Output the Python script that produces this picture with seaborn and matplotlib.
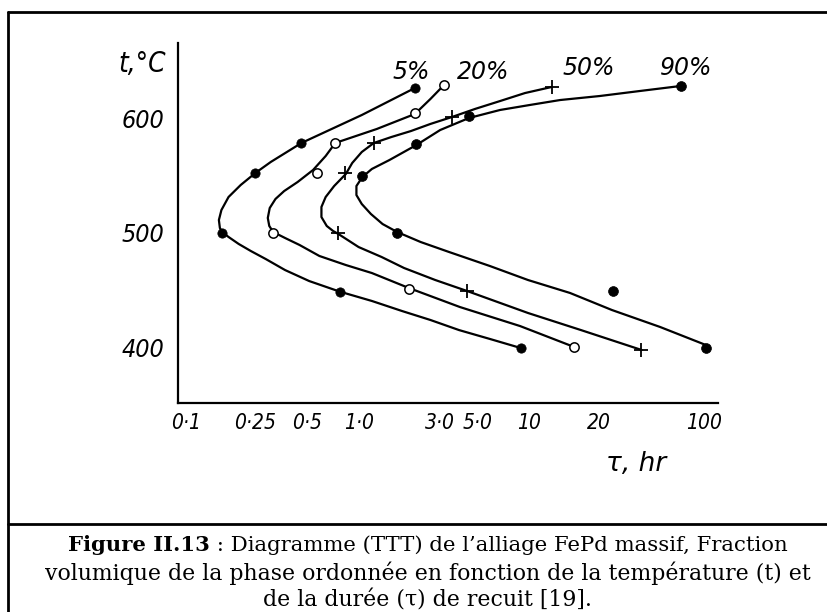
import numpy as np
import pandas as pd
import matplotlib
matplotlib.use("Agg")
import matplotlib.pyplot as plt
from matplotlib.lines import Line2D
from matplotlib.transforms import ScaledTranslation
import seaborn as sns

# ---------------- data ----------------
tau_ticks = [0.1, 0.25, 0.5, 1.0, 3.0, 5.0, 10, 20, 100]
tau_tick_labels = ["0·1", "0·25", "0·5", "1·0", "3·0", "5·0", "10", "20", "100"]
temp_ticks = [400, 500, 600]
series_labels = ["5%", "20%", "50%", "90%"]

# measured points (tau in hr, t in degC)
tau_5 = [1.94, 0.423, 0.2275, 0.1475, 0.707, 8.2]
t_5 = [626, 578, 552, 500, 448, 399]
tau_20 = [2.88, 1.94, 0.664, 0.52, 0.29, 1.79, 14.6]
t_20 = [629, 604, 578, 552, 500, 451, 400]
tau_50 = [11.7, 3.2, 1.11, 0.76, 0.69, 3.93, 34.4]
t_50 = [627, 601, 578, 552, 500, 449, 397]
tau_90 = [63, 4.03, 1.98, 0.945, 1.53, 22.1, 92.7]
t_90 = [628, 602, 577, 549, 500, 449, 399]

# traced curves (tau in hr, t in degC)
c5_tau = [1.94, 0.945, 0.423, 0.281, 0.229, 0.1884, 0.1603, 0.1458, 0.1410, 0.1429,
          0.1475, 0.1603, 0.1834, 0.2157, 0.263, 0.340, 0.469, 0.707, 1.083, 1.632,
          2.395, 3.525, 5.35, 8.22]
c5_t = [626.2, 602.6, 578.2, 561.6, 552.0, 541.5, 531.0, 519.6, 510.9, 503.9,
        500.4, 496.1, 490.0, 483.8, 476.8, 467.2, 457.6, 448.3, 440.2, 431.4,
        423.6, 414.8, 407.0, 398.9]
c20_tau = [2.88, 2.395, 1.94, 1.157, 0.664, 0.584, 0.4937, 0.4019, 0.3358, 0.2992,
           0.2771, 0.2700, 0.2754, 0.2905, 0.340, 0.4124, 0.537, 0.764, 1.083, 1.79,
           3.57, 8.05, 14.6]
c20_t = [628.8, 616.6, 603.5, 590.4, 578.2, 566.8, 554.6, 544.1, 536.2, 529.3,
         521.4, 512.7, 505.7, 500.4, 495.2, 489.1, 479.5, 471.6, 464.6, 451.5,
         434.9, 418.3, 400.0]
c50_tau = [11.68, 8.61, 6.13, 4.37, 3.21, 2.395, 1.838, 1.411, 1.112, 0.945,
           0.832, 0.764, 0.654, 0.584, 0.552, 0.552, 0.5925, 0.645, 0.692, 0.906,
           1.236, 1.675, 2.559, 3.93, 8.97, 15.6, 34.5]
c50_t = [627.1, 621.8, 614.8, 607.9, 600.9, 594.8, 588.6, 583.4, 578.2, 570.3,
         560.7, 551.1, 540.6, 531.0, 522.3, 513.5, 505.7, 501.3, 498.7, 487.3,
         478.6, 469.0, 458.5, 448.9, 429.7, 414.8, 397.4]
c90_tau = [63.1, 33.7, 18.8, 12.7, 9.22, 6.13, 4.03, 2.734, 1.98, 1.374,
           1.083, 0.953, 0.880, 0.880, 0.945, 1.068, 1.252, 1.527, 2.098, 3.08,
           5.35, 8.97, 14.0, 21.9, 45.8, 92.6]
c90_t = [628.0, 623.6, 619.2, 615.7, 611.4, 607.0, 600.0, 589.5, 576.4, 563.3,
         555.5, 548.5, 540.6, 532.7, 524.9, 516.2, 507.4, 500.4, 491.7, 483.0,
         470.7, 458.5, 447.2, 432.3, 417.5, 401.7]

caption_bold = "Figure II.13"
caption_rest = " : Diagramme (TTT) de l\u2019alliage FePd massif, Fraction"
caption_2 = "volumique de la phase ordonnée en fonction de la température (t) et"
caption_3 = "de la durée (\u03c4) de recuit [19]."

# ---------------- layout ----------------
W, H = 828, 612
fig = plt.figure(figsize=(W / 100, H / 100), dpi=100)
sns.set_style("white")
plt.rcParams["font.family"] = ["DejaVu Sans"]

ax = fig.add_axes([178 / W, 1 - 403 / H, 540 / W, 360 / H])

# printed (distorted log) time axis: tick positions in px
tick_px = [193, 262, 314, 366, 447, 485, 536, 606, 711]
log_ext = np.concatenate([[-3.0], np.log10(tau_ticks), [4.0]])
px_ext = np.concatenate([[193 - 2 * 171], tick_px, [711 + 2 * 150]])


def fwd(x):
    x = np.asarray(x, dtype=float)
    return np.interp(np.log10(np.clip(x, 1e-9, None)), log_ext, px_ext)


def inv(p):
    p = np.asarray(p, dtype=float)
    return 10 ** np.interp(p, px_ext, log_ext)


ax.set_xscale("function", functions=(fwd, inv))

curves = [(c5_tau, c5_t), (c20_tau, c20_t), (c50_tau, c50_t), (c90_tau, c90_t)]
for ct, cT in curves:
    df = pd.DataFrame({"tau": ct, "t": cT})
    sns.lineplot(data=df, x="tau", y="t", sort=False, estimator=None,
                 color="black", lw=1.6, ax=ax, zorder=2)
for ln in ax.lines:
    ln.set_solid_joinstyle("round")

sns.scatterplot(x=tau_5, y=t_5, marker="o", color="black", s=45,
                edgecolor="black", linewidth=0.5, ax=ax, zorder=3)
sns.scatterplot(x=tau_20, y=t_20, marker="o", color="white", s=45,
                edgecolor="black", linewidth=1.1, ax=ax, zorder=3)
sns.scatterplot(x=tau_50, y=t_50, marker="+", color="black", s=100,
                linewidth=1.3, ax=ax, zorder=3)
sns.scatterplot(x=tau_90, y=t_90, marker="o", color="black", s=50,
                edgecolor="black", linewidth=0.5, ax=ax, zorder=3)

ax.set_xlim(0.0817, 111.3)
ax.set_ylim(351.1, 665.5)
ax.set_xlabel("")
ax.set_ylabel("")
ax.set_xticks(tau_ticks)
ax.set_xticklabels(tau_tick_labels)
ax.xaxis.set_minor_locator(matplotlib.ticker.NullLocator())
ax.set_yticks(temp_ticks)
ax.set_yticklabels([str(v) for v in temp_ticks])
for s in ["top", "right"]:
    ax.spines[s].set_visible(False)
for s in ["left", "bottom"]:
    ax.spines[s].set_linewidth(1.6)
    ax.spines[s].set_color("black")
ax.tick_params(axis="y", direction="in", length=12, width=1.4, pad=10,
               labelsize=18, colors="black")
ax.tick_params(axis="x", direction="in", length=10, width=1.2, pad=7,
               labelsize=15, colors="black")
shift = ScaledTranslation(-7 / 100, 0, fig.dpi_scale_trans)
for lab in ax.get_xticklabels():
    lab.set_fontstyle("italic")
    lab.set_fontstretch("condensed")
    lab.set_transform(lab.get_transform() + shift)
for lab in ax.get_yticklabels():
    lab.set_fontstyle("italic")
    lab.set_fontstretch("condensed")
ax.patch.set_alpha(0)

# axis titles and series labels
txt_kw = dict(fontstyle="italic", color="black")
fig.text(142 / W, 1 - 64 / H, "t,\u00b0C", fontsize=20, ha="center", va="center",
         fontstretch="condensed", **txt_kw)
fig.text(636 / W, 1 - 464 / H, "\u03c4, hr", fontsize=19, ha="center", va="center", **txt_kw)
for lab, (px, py) in zip(series_labels, [(411, 72), (483, 72), (589, 68), (686, 68)]):
    fig.text(px / W, 1 - py / H, lab, fontsize=17, ha="center", va="center", **txt_kw)

# frame lines
lw_frame = 2.0
fig.add_artist(Line2D([8 / W, 8 / W], [1 - 12 / H, 0], color="black", lw=lw_frame))
fig.add_artist(Line2D([8 / W, 1], [1 - 12 / H, 1 - 12 / H], color="black", lw=lw_frame))
fig.add_artist(Line2D([8 / W, 1], [1 - 524 / H, 1 - 524 / H], color="black", lw=lw_frame))

# caption
cap_font = dict(family="DejaVu Serif", color="black")
cx = 428 / W
r = fig.canvas.get_renderer()
tb = fig.text(0, 1 - 545 / H, caption_bold, fontweight="bold", fontsize=15.2,
              va="center", **cap_font)
tr = fig.text(0, 1 - 545 / H, caption_rest, va="center", fontsize=15.3, **cap_font)
wb = tb.get_window_extent(r).width
wr = tr.get_window_extent(r).width
x0 = cx * W - (wb + wr) / 2
tb.set_x(x0 / W)
tr.set_x((x0 + wb) / W)
fig.text(cx, 1 - 573 / H, caption_2, ha="center", va="center", fontsize=15.8, **cap_font)
fig.text(cx, 1 - 601 / H, caption_3, ha="center", va="center", fontsize=15.8, **cap_font)

fig.savefig("out.png", dpi=100)
